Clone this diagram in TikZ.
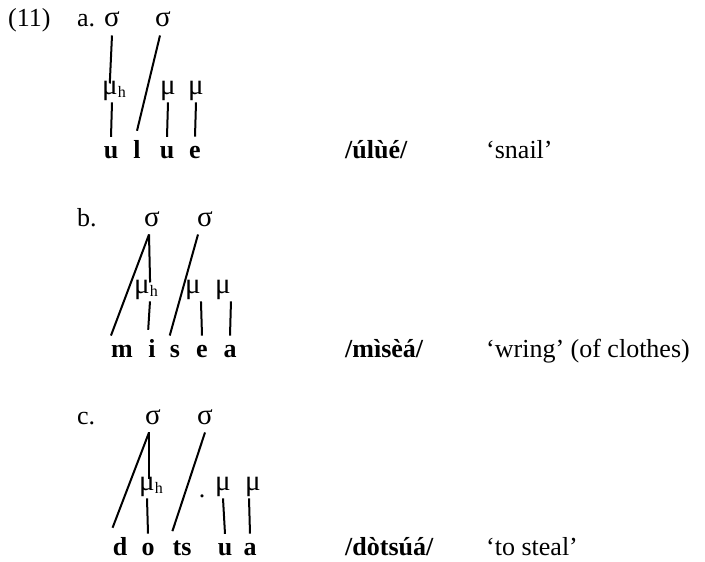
\documentclass[tikz,border=0pt]{standalone}
\usepackage{fontspec}
\setmainfont{Liberation Serif}
\usetikzlibrary{positioning}
\newcommand{\hsub}{\rlap{\raisebox{-3pt}{\fontsize{16}{16}\selectfont h}}}
\begin{document}
\begin{tikzpicture}[
                        x=1pt, y=-1pt,
                        every node/.style={inner sep=0pt, anchor=base, font=\fontsize{26}{30}\selectfont},
                        syl/.style={inner ysep=8pt, font=\fontsize{29}{30}\selectfont},
                        mora/.style={inner ysep=2pt, font=\fontsize{29}{30}\selectfont},
                        seg/.style={inner ysep=9pt, font=\fontsize{26}{30}\selectfont\bfseries},
                        tag/.style={anchor=base west},
                        form/.style={anchor=base west, font=\fontsize{26}{30}\selectfont\bfseries},
                        link/.style={line width=2pt},
                        tomora/.style={link, shorten >=-5pt}
                    ]
                    \useasboundingbox (0,0) rectangle (705,562);
                    % Blocks (a)
                    \node [tag] (ex) at (8,27) {(11)};
                    \node [tag] (la) at (77,27) {a.};
                    \node [syl] (sa1) at (112,27) {σ};
                    \node [syl] (sa2) at (163,27) {σ};
                    \node [mora] (ma1) at (110,94) {μ\hsub};
                    \node [mora] (ma2) at (168,94) {μ};
                    \node [mora] (ma3) at (196,94) {μ};
                    \node [seg] (ua1) at (111,158) {u};
                    \node [seg] (ua2) at (137,158) {l};
                    \node [seg] (ua3) at (167,158) {u};
                    \node [seg] (ua4) at (195,158) {e};
                    \node [form] (fa) at (345,158) {/úlùé/};
                    \node [tag] (ga) at (486,158) {‘snail’};

                    % Blocks (b)
                    \node [tag] (lb) at (77,226) {b.};
                    \node [syl] (sb1) at (152,226) {σ};
                    \node [syl] (sb2) at (205,226) {σ};
                    \node [mora] (mb1) at (142,293) {μ\hsub};
                    \node [mora] (mb2) at (193,293) {μ};
                    \node [mora] (mb3) at (223,293) {μ};
                    \node [seg] (ub1) at (122,357) {m};
                    \node [seg] (ub2) at (152,357) {i};
                    \node [seg] (ub3) at (175,357) {s};
                    \node [seg] (ub4) at (202,357) {e};
                    \node [seg] (ub5) at (230,357) {a};
                    \node [form] (fb) at (345,357) {/mìsèá/};
                    \node [tag] (gb) at (486,357) {‘wring’ (of clothes)};

                    % Blocks (c)
                    \node [tag] (lc) at (77,424) {c.};
                    \node [syl] (sc1) at (153,424) {σ};
                    \node [syl] (sc2) at (205,424) {σ};
                    \node [mora] (mc1) at (147,490) {μ\hsub};
                    \node (dot) at (202,497) {.};
                    \node [mora] (mc2) at (223,490) {μ};
                    \node [mora] (mc3) at (253,490) {μ};
                    \node [seg] (uc1) at (120,555) {d};
                    \node [seg] (uc2) at (148,555) {o};
                    \node [seg] (uc3) at (182,555) {ts};
                    \node [seg] (uc4) at (225,555) {u};
                    \node [seg] (uc5) at (250,555) {a};
                    \node [form] (fc) at (345,555) {/dòtsúá/};
                    \node [tag] (gc) at (486,555) {‘to steal’};

                    % Connections (a)
                    \draw [tomora] (sa1.south) -- (ma1.north);
                    \draw [link] ([xshift=-3pt]sa2.south) -- (ua2.north);
                    \draw [link] ([xshift=2pt]ma1.south) -- (ua1.north);
                    \draw [link] (ma2.south) -- (ua3.north);
                    \draw [link] (ma3.south) -- (ua4.north);

                    % Connections (b)
                    \draw [tomora] ([xshift=-3pt]sb1.south) -- (mb1.north east);
                    \draw [link] ([xshift=-3pt]sb1.south) -- (ub1.north west);
                    \draw [link] ([xshift=-7pt]sb2.south) -- (ub3.north west);
                    \draw [link] (mb1.south east) -- (ub2.north west);
                    \draw [link] (mb2.south east) -- (ub4.north);
                    \draw [link] (mb3.south east) -- (ub5.north);

                    % Connections (c)
                    \draw [tomora] ([xshift=-4pt]sc1.south) -- ([xshift=2pt]mc1.north);
                    \draw [link] ([xshift=-4pt]sc1.south) -- (uc1.north west);
                    \draw [link] (sc2.south) -- (uc3.north west);
                    \draw [link] (mc1.south) -- (uc2.north);
                    \draw [link] (mc2.south) -- (uc4.north);
                    \draw [link] ([xshift=-4pt]mc3.south) -- (uc5.north);
                \end{tikzpicture}
\end{document}
